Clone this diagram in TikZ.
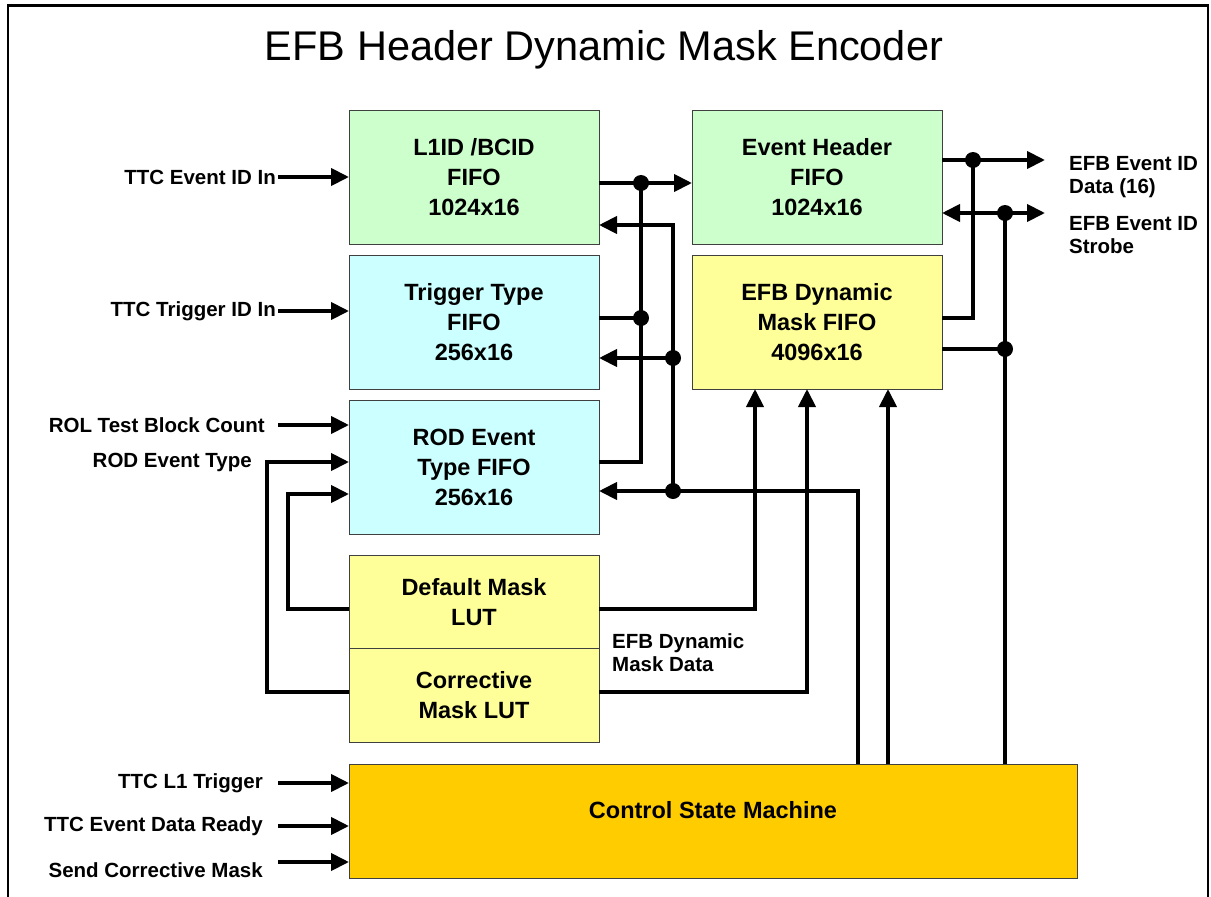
\documentclass[tikz,border=0pt]{standalone}
\usepackage{fontspec}
\setmainfont{Liberation Sans}
\usetikzlibrary{positioning, arrows.meta}

\definecolor{fifogreen}{HTML}{CCFFCC}
\definecolor{fifocyan}{HTML}{CCFFFF}
\definecolor{lutyellow}{HTML}{FFFF99}
\definecolor{ctrlorange}{HTML}{FFCC00}

\newcommand{\titlefont}{\fontsize{41.5}{48}\selectfont}
\newcommand{\boxfont}{\fontsize{23.5}{30}\selectfont\bfseries}
\newcommand{\sigfont}{\fontsize{20.5}{23}\selectfont\bfseries}

\begin{document}
\begin{tikzpicture}[
    x=1pt, y=-1pt,
    node distance=11pt,
    fifo/.style={rectangle, draw=black!75, line width=1pt, outer sep=0pt, minimum width=250pt, minimum height=134pt, align=center, font=\boxfont},
    lut/.style={fifo, fill=lutyellow, minimum height=93.5pt},
    ctrl/.style={fifo, align=none, fill=ctrlorange, minimum width=728pt, minimum height=114pt, text height=17pt, text depth=22pt},
    sig/.style={font=\sigfont, inner sep=2pt},
    wire/.style={line width=4pt},
    arrow/.style={wire, -{Triangle[length=18pt, width=17pt]}},
    dblarrow/.style={wire, {Triangle[length=18pt, width=17pt]}-{Triangle[length=18pt, width=17pt]}},
    dot/.style={circle, fill, inner sep=0pt, minimum size=16pt}
  ]
    \useasboundingbox (0,0) rectangle (1211,897);
    \draw[line width=2pt] (8,897) -- (8,5) -- (1208,5) -- (1208,897);
    \draw[line width=3pt] (7,5.5) -- (1209,5.5);

    \node[font=\titlefont] (title) at (604,50) {EFB Header Dynamic Mask Encoder};

    % blocks
    \node[fifo, fill=fifogreen] (l1id) at (474,177) {L1ID /BCID\\FIFO\\1024x16};
    \node[fifo, fill=fifogreen, right=93pt of l1id] (evhdr) {Event Header\\FIFO\\1024x16};
    \node[fifo, fill=fifocyan, below=of l1id] (trig) {Trigger Type\\FIFO\\256x16};
    \node[fifo, fill=fifocyan, below=of trig] (rod) {ROD Event\\Type FIFO\\256x16};
    \node[fifo, fill=lutyellow, below=of evhdr] (dynfifo) {EFB Dynamic\\Mask FIFO\\4096x16};
    \node[lut, below=21pt of rod] (deflut) {Default Mask\\LUT};
    \node[lut, below=0pt of deflut] (corlut) {Corrective\\Mask LUT};
    \node[ctrl, below=22pt of corlut.south west, anchor=north west] (csm) {Control State Machine};

    % signal names
    \node[sig, anchor=east] (ttcid) at (278,177) {TTC Event ID In};
    \node[sig, anchor=east] (ttctrig) at (278,311) {TTC Trigger ID In};
    \node[sig, anchor=east] (rol) at (267,425) {ROL Test Block Count};
    \node[sig, anchor=east] (rodtype) at (254,462) {ROD Event Type};
    \node[sig, anchor=east] (l1trig) at (265,783) {TTC L1 Trigger};
    \node[sig, anchor=east] (dready) at (265,826) {TTC Event Data Ready};
    \node[sig, anchor=east] (sendcor) at (265,870) {Send Corrective Mask};
    \node[sig, anchor=north west, align=left] (datalbl) at (1067,154) {EFB Event ID\\Data (16)};
    \node[sig, anchor=north west, align=left] (strblbl) at (1067,214) {EFB Event ID\\Strobe};
    \node[sig, anchor=north west, align=left] (masklbl) at (610,631) {EFB Dynamic\\Mask Data};

    % junctions and corners
    \node[dot] (jA1) at (641,183) {};
    \node[dot] (jA2) at (641,318) {};
    \coordinate (jA3) at (641,462);
    \coordinate (jB1) at (673,225);
    \node[dot] (jB2) at (673,358) {};
    \node[dot] (jB3) at (673,491) {};
    \coordinate (jB4) at (858,491);
    \node[dot] (jC1) at (973,160) {};
    \coordinate (jC2) at (973,318);
    \node[dot] (jD1) at (1005,213) {};
    \node[dot] (jD2) at (1005,349) {};
    \coordinate (dout) at (1045,160);
    \coordinate (sout) at (1045,213);
    \coordinate (m1) at (755,609);
    \coordinate (m2) at (807,692);
    \coordinate (m3) at (888,764);
    \coordinate (f1) at (288,494);
    \coordinate (f2) at (267,462);
    \coordinate (sendin) at (278,862);

    % inputs
    \draw[arrow] (ttcid.east) -- (l1id.west);
    \draw[arrow] (ttctrig.east) -- (trig.west |- ttctrig);
    \draw[arrow] (rol -| ttcid.east) -- (rod.west |- rol);
    \draw[arrow] (l1trig -| ttcid.east) -- (csm.west |- l1trig);
    \draw[arrow] (dready -| ttcid.east) -- (csm.west |- dready);
    \draw[arrow] (sendin) -- (csm.west |- sendin);

    % fifo outputs to event header
    \draw[arrow] (l1id.east |- jA1) -- (evhdr.west |- jA1);
    \draw[wire] (trig.east |- jA2) -- (jA2.center);
    \draw[wire] (rod.east |- jA3) -- (jA3) -- (jA1.center);

    % read strobes
    \draw[arrow] (jB4 |- csm.north) -- (jB4) -- (rod.east |- jB4);
    \draw[arrow] (jB3.center) -- (jB1) -- (l1id.east |- jB1);
    \draw[arrow] (jB2.center) -- (trig.east |- jB2);

    % outputs
    \draw[arrow] (evhdr.east |- jC1) -- (dout);
    \draw[wire] (dynfifo.east |- jC2) -- (jC2) -- (jC1.center);
    \draw[dblarrow] (evhdr.east |- jD1) -- (sout);
    \draw[wire] (jD1 |- csm.north) -- (jD1.center);
    \draw[wire] (dynfifo.east |- jD2) -- (jD2.center);

    % mask data
    \draw[arrow] (deflut.east |- m1) -- (m1) -- (m1 |- dynfifo.south);
    \draw[arrow] (corlut.east |- m2) -- (m2) -- (m2 |- dynfifo.south);
    \draw[arrow] (m3) -- (m3 |- dynfifo.south);
    \draw[arrow] (deflut.west |- m1) -- (f1 |- m1) -- (f1) -- (rod.west |- f1);
    \draw[arrow] (corlut.west |- m2) -- (f2 |- m2) -- (f2) -- (rod.west |- f2);
  \end{tikzpicture}
\end{document}
